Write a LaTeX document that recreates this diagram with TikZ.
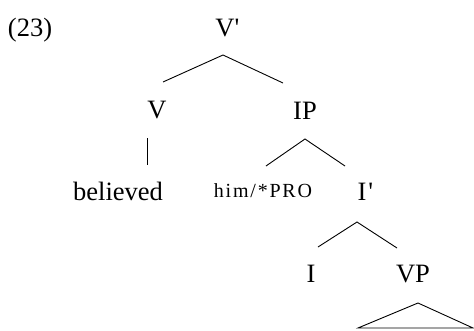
\documentclass[tikz,border=0pt]{standalone}
\usepackage{fontspec}
\setmainfont{Liberation Serif}
\newfontfamily\prorm[LetterSpace=9]{Liberation Serif}
\begin{document}
\begin{tikzpicture}[x=1pt,y=-1pt,line width=0.9pt,
  cat/.style={inner sep=0pt,anchor=base,font=\fontsize{26.5}{30}\selectfont},
  pro/.style={inner sep=0pt,anchor=base,font=\prorm\fontsize{20}{24}\selectfont}]
  \path[use as bounding box] (0,0) rectangle (474,330);
  % labels, placed at their baselines
  \node[cat] (ex) at (30,36) {(23)};
  \node[cat] (Vbar) at (225,36) {V\rlap{\textquotesingle}};
  \node[cat] (V) at (157,118) {V};
  \node[cat] (IP) at (305,119) {IP};
  \node[cat] (believed) at (118,200) {believed};
  \node[pro] (him) at (263,197) {him/*PRO};
  \node[cat] (Ibar) at (362,200) {I\rlap{\kern2pt\textquotesingle}};
  \node[cat] (I) at (311,282) {I};
  \node[cat] (VP) at (413,282) {VP};
  \coordinate (tl) at (358,328);
  \coordinate (tr) at (473,328);
  % branches
  \draw ([shift={(6,-36)}]V.base) -- ([shift={(-2,19)}]Vbar.base)
        -- ([shift={(-22,-36)}]IP.base);
  \draw ([shift={(-10,20)}]V.base) -- ([shift={(29,-35)}]believed.base);
  \draw ([shift={(3,-31)}]him.base) -- ([shift={(0,20)}]IP.base)
        -- ([shift={(-17,-34)}]Ibar.base);
  \draw ([shift={(7,-35)}]I.base) -- ([shift={(-5,22)}]Ibar.base)
        -- ([shift={(-16,-34)}]VP.base);
  \draw (tl) -- ([shift={(5,21)}]VP.base) -- (tr) -- cycle;
\end{tikzpicture}
\end{document}
